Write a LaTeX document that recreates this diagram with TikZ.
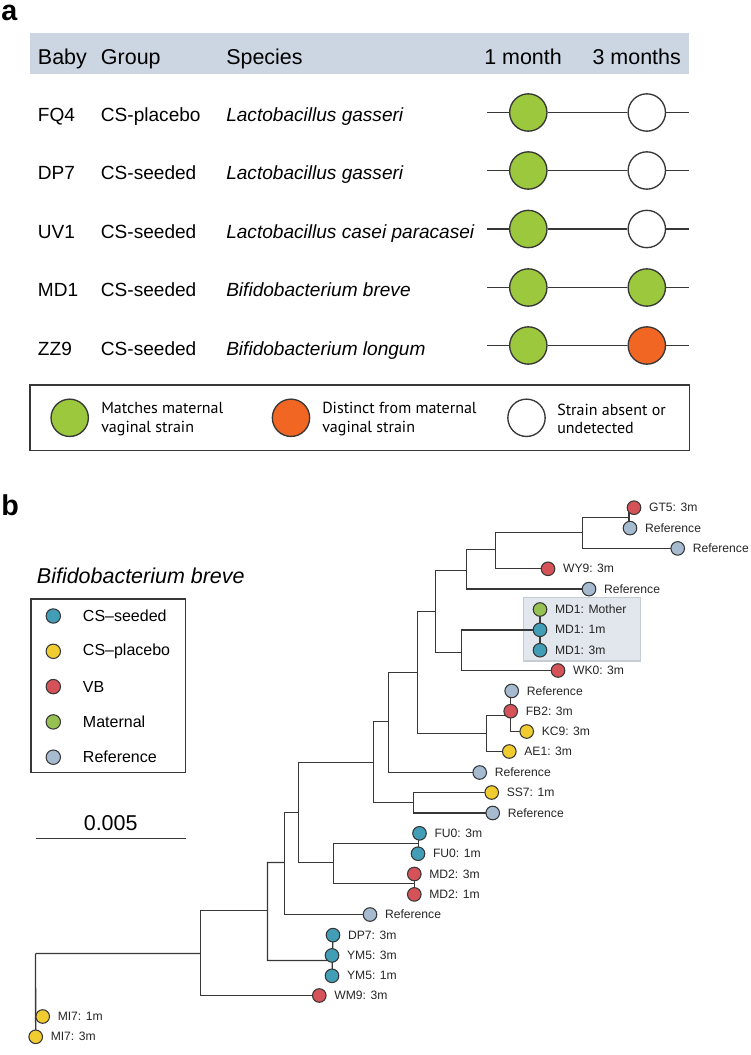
\documentclass[tikz,border=0pt]{standalone}
\usepackage{fontspec}
\setmainfont{Liberation Sans}
\newfontfamily\legendfont{PT Sans}
\usetikzlibrary{backgrounds}

\definecolor{bandblue}{RGB}{204,214,227}
\definecolor{matchgreen}{RGB}{155,200,60}
\definecolor{distorange}{RGB}{242,102,35}
\definecolor{seedteal}{RGB}{66,158,182}
\definecolor{placeboyellow}{RGB}{240,204,48}
\definecolor{vbred}{RGB}{212,82,88}
\definecolor{matgreen}{RGB}{150,193,82}
\definecolor{refblue}{RGB}{166,186,208}
\definecolor{boxgrey}{RGB}{226,231,238}
\definecolor{boxedge}{RGB}{198,204,212}
\definecolor{inkgrey}{RGB}{55,55,55}

\begin{document}
\begin{tikzpicture}[x=0.75pt,y=0.75pt,yscale=-1,xscale=1,
  hdr/.style={anchor=base west,inner sep=0pt,font=\fontsize{16.1}{19}\selectfont},
  cell/.style={anchor=base west,inner sep=0pt,font=\fontsize{14.3}{17}\selectfont},
  spec/.style={anchor=base west,inner sep=0pt,font=\fontsize{14.3}{17}\selectfont\itshape},
  panel/.style={anchor=base west,inner sep=0pt,text height=1.1ex,font=\fontsize{21.5}{25}\selectfont\bfseries},
  bigdot/.style={circle,draw=inkgrey,line width=1pt,minimum size=28pt,inner sep=0pt},
  rowline/.style={draw=inkgrey,line width=1pt},
  keytext/.style={anchor=west,inner sep=0pt,align=left,font=\legendfont\fontsize{12}{13.9}\selectfont},
  branch/.style={draw=inkgrey,line width=1pt},
  tiplab/.style={font=\fontsize{9.1}{11}\selectfont,inner sep=0pt,text=black!85,xshift=5.6pt},
  tipdot/.style={circle,draw=inkgrey,line width=0.8pt,minimum size=10.2pt,inner sep=0pt,
    label={[tiplab]east:{#1}}},
  seeded/.style={tipdot={#1},fill=seedteal},
  placebo/.style={tipdot={#1},fill=placeboyellow},
  vb/.style={tipdot={#1},fill=vbred},
  maternal/.style={tipdot={#1},fill=matgreen},
  refer/.style={tipdot={Reference},fill=refblue},
  legdot/.style={circle,draw=inkgrey,line width=0.8pt,minimum size=10.8pt,inner sep=0pt},
  legtext/.style={anchor=west,inner sep=0pt,font=\fontsize{12}{14}\selectfont}]
\useasboundingbox (0,0) rectangle (750,1055);

% ---------------- panel a ----------------
% Text Node
\node[panel] (pa) at (1,21) {a};
%Shape: Rectangle
\fill[bandblue] (30,33.3) rectangle (689.3,74);
% Text Node
\node[hdr] (hbaby) at (37.7,65) {Baby};
\node[hdr] (hgroup) at (100.7,65) {Group};
\node[hdr] (hspec) at (226,65) {Species};
\node[hdr] (hone) at (484,65) {1 month};
\node[hdr] (hthree) at (592.3,65) {3 months};

% Text Node
\node[cell] (b1) at (37.7,121.7) {FQ4};
\node[cell] (g1) at (100.7,121.7) {CS-placebo};
\node[spec] (s1) at (226,121.7) {Lactobacillus gasseri};
\node[cell] (b2) at (37.7,180) {DP7};
\node[cell] (g2) at (100.7,180) {CS-seeded};
\node[spec] (s2) at (226,180) {Lactobacillus gasseri};
\node[cell] (b3) at (37.7,238.4) {UV1};
\node[cell] (g3) at (100.7,238.4) {CS-seeded};
\node[spec] (s3) at (226,238.4) {Lactobacillus casei paracasei};
\node[cell] (b4) at (37.7,296.7) {MD1};
\node[cell] (g4) at (100.7,296.7) {CS-seeded};
\node[spec] (s4) at (226,296.7) {Bifidobacterium breve};
\node[cell] (b5) at (37.7,355.1) {ZZ9};
\node[cell] (g5) at (100.7,355.1) {CS-seeded};
\node[spec] (s5) at (226,355.1) {Bifidobacterium longum};

%Shape: Circle
\node[bigdot,fill=matchgreen] (fq4a) at (528.3,112.5) {};
\node[bigdot,fill=white] (fq4b) at (646.8,112.5) {};
\node[bigdot,fill=matchgreen] (dp7a) at (528.3,170.5) {};
\node[bigdot,fill=white] (dp7b) at (646.8,170.5) {};
\node[bigdot,fill=matchgreen] (uv1a) at (528.3,229) {};
\node[bigdot,fill=white] (uv1b) at (646.8,229) {};
\node[bigdot,fill=matchgreen] (md1a1) at (528.3,287.5) {};
\node[bigdot,fill=matchgreen] (md1b1) at (646.8,287.5) {};
\node[bigdot,fill=matchgreen] (zz9a) at (528.3,345.5) {};
\node[bigdot,fill=distorange] (zz9b) at (646.8,345.5) {};

\coordinate (l1) at (487.3,112.5); \coordinate (r1) at (689.3,112.5);
\coordinate (l2) at (487.3,170.5); \coordinate (r2) at (689.3,170.5);
\coordinate (l3) at (487.3,229); \coordinate (r3) at (689.3,229);
\coordinate (l4) at (487.3,287.5); \coordinate (r4) at (689.3,287.5);
\coordinate (l5) at (487.3,345.5); \coordinate (r5) at (689.3,345.5);
%Straight Lines
\draw[rowline] (l1) -- (fq4a) -- (fq4b) -- (r1);
\draw[rowline] (l2) -- (dp7a) -- (dp7b) -- (r2);
\draw[rowline] (l3) -- (uv1a) -- (uv1b) -- (r3);
\draw[rowline] (l4) -- (md1a1) -- (md1b1) -- (r4);
\draw[rowline] (l5) -- (zz9a) -- (zz9b) -- (r5);

%Shape: Rectangle
\draw[inkgrey,line width=1pt] (30,385) rectangle (689.3,450.6);
%Shape: Circle
\node[bigdot,fill=matchgreen] (kmatch) at (69.7,417.8) {};
\node[bigdot,fill=distorange] (kdist) at (291,417.8) {};
\node[bigdot,fill=white] (kabs) at (526.5,417.8) {};
% Text Node
\node[keytext] (tmatch) at (101,419) {Matches maternal\\vaginal strain};
\node[keytext] (tdist) at (322,419) {Distinct from maternal\\vaginal strain};
\node[keytext] (tabs) at (557,419) {Strain absent or\\undetected};

% ---------------- panel b ----------------
% Text Node
\node[panel] (pb) at (1,515) {b};
\node[anchor=base west,inner sep=0pt,font=\fontsize{16.1}{19}\selectfont\itshape] (ttl) at (36.7,583.3) {Bifidobacterium breve};

%Shape: Rectangle
\draw[inkgrey,line width=0.9pt] (31,599) rectangle (185.7,772.7);
%Shape: Circle
\node[legdot,fill=seedteal] (kseed) at (53.3,616) {};
\node[legdot,fill=placeboyellow] (kplac) at (53.3,651.3) {};
\node[legdot,fill=vbred] (kvb) at (53.3,686.6) {};
\node[legdot,fill=matgreen] (kmat) at (53.3,721.9) {};
\node[legdot,fill=refblue] (kref) at (53.3,757.2) {};
% Text Node
\node[legtext] (tseed) at (82.7,616) {CS–seeded};
\node[legtext] (tplac) at (82.7,651.3) {CS–placebo};
\node[legtext] (tvb) at (82.7,686.6) {VB};
\node[legtext] (tmat) at (82.7,721.9) {Maternal};
\node[legtext] (tref) at (82.7,757.2) {Reference};

% scale bar
\node[anchor=base,inner sep=0pt,font=\fontsize{16.1}{19}\selectfont] (scl) at (110.7,830) {0.005};
\draw[inkgrey,line width=1pt] (35.7,838.5) -- (185.7,838.5);

% tips
\node[vb={GT5: 3m}] (gt5) at (634,507.7) {};
\node[refer] (ref1) at (630,528.1) {};
\node[refer] (ref2) at (677.7,548.4) {};
\node[vb={WY9: 3m}] (wy9) at (548,568.8) {};
\node[refer] (ref3) at (589,589.1) {};
\node[maternal={MD1: Mother}] (md1m) at (540,609.5) {};
\node[seeded={MD1: 1m}] (md1a) at (540,629.8) {};
\node[seeded={MD1: 3m}] (md1b) at (540,650.2) {};
\node[vb={WK0: 3m}] (wk0) at (558,670.5) {};
\node[refer] (ref4) at (511.7,690.9) {};
\node[vb={FB2: 3m}] (fb2) at (510.7,711.2) {};
\node[placebo={KC9: 3m}] (kc9) at (526.7,731.5) {};
\node[placebo={AE1: 3m}] (ae1) at (509.3,751.5) {};
\node[refer] (ref5) at (479.7,772.5) {};
\node[placebo={SS7: 1m}] (ss7) at (491.7,792.5) {};
\node[refer] (ref6) at (492.7,813) {};
\node[seeded={FU0: 3m}] (fu0a) at (419.5,833.3) {};
\node[seeded={FU0: 1m}] (fu0b) at (418,853.7) {};
\node[vb={MD2: 3m}] (md2a) at (414.3,874) {};
\node[vb={MD2: 1m}] (md2b) at (414.3,894.4) {};
\node[refer] (ref7) at (370,914.5) {};
\node[seeded={DP7: 3m}] (dp7) at (333,935.1) {};
\node[seeded={YM5: 3m}] (ym5a) at (332,955.4) {};
\node[seeded={YM5: 1m}] (ym5b) at (332,975.8) {};
\node[vb={WM9: 3m}] (wm9) at (319.3,995.5) {};
\node[placebo={MI7: 1m}] (mi7a) at (42.7,1016.5) {};
\node[placebo={MI7: 3m}] (mi7b) at (35.7,1036.8) {};

% inner nodes
\coordinate (n1) at (35.5,953.5);
\coordinate (n2) at (200.5,953.5);
\coordinate (n3) at (267.5,910.5);
\coordinate (n4) at (284.5,862.5);
\coordinate (n5) at (298.5,812.5);
\coordinate (nfm) at (333.5,862.5);
\coordinate (nfu) at (418.5,843.5);
\coordinate (nmd2) at (414.5,883.5);
\coordinate (n6) at (373.5,762.5);
\coordinate (nss) at (413.5,802.5);
\coordinate (n7) at (388.5,721.5);
\coordinate (n8) at (417.5,672.5);
\coordinate (nae) at (486.5,733.5);
\coordinate (nfb) at (510.5,715.5);
\coordinate (n9) at (435.5,611.5);
\coordinate (nwk) at (461.5,652.5);
\coordinate (nmd1) at (540,630);
\coordinate (n10) at (466.5,570.5);
\coordinate (n11) at (495.5,549.5);
\coordinate (n12) at (582.5,532.5);
\coordinate (ngt) at (629,517.5);
\coordinate (nym) at (332,960.5);

\begin{pgfonlayer}{background}
%Shape: Rectangle
\draw[fill=boxgrey,draw=boxedge,line width=0.8pt] (523.3,597.7) rectangle (640.7,661);
%Straight Lines
\draw[branch] (n1) |- (mi7a.center) (n1) -- (mi7b.center) (n1) -- (n2);
\draw[branch] (n2) |- (n3) (n2) |- (wm9.center);
\draw[branch] (n3) |- (n4) (n3) |- (nym) (dp7.center) -- (ym5b.center);
\draw[branch] (n4) |- (n5) (n4) |- (ref7.center);
\draw[branch] (n5) |- (n6) (n5) |- (nfm);
\draw[branch] (nfm) |- (nfu) (nfm) |- (nmd2);
\draw[branch] (nfu) |- (fu0a.center) (nfu) |- (fu0b.center);
\draw[branch] (nmd2) |- (md2a.center) (nmd2) |- (md2b.center);
\draw[branch] (n6) |- (n7) (n6) |- (nss);
\draw[branch] (nss) |- (ss7.center) (nss) |- (ref6.center);
\draw[branch] (n7) |- (n8) (n7) |- (ref5.center);
\draw[branch] (n8) |- (n9) (n8) |- (nae);
\draw[branch] (nae) |- (nfb) (nae) |- (ae1.center);
\draw[branch] (nfb) |- (ref4.center) (nfb) |- (fb2.center) (nfb) |- (kc9.center);
\draw[branch] (n9) |- (n10) (n9) |- (nwk);
\draw[branch] (nwk) |- (nmd1) (nwk) |- (wk0.center);
\draw[branch] (nmd1) -- (md1m.center) (nmd1) -- (md1b.center);
\draw[branch] (n10) |- (n11) (n10) |- (ref3.center);
\draw[branch] (n11) |- (n12) (n11) |- (wy9.center);
\draw[branch] (n12) |- (ngt) (n12) |- (ref2.center);
\draw[branch] (ngt) |- (gt5.center) (ngt) |- (ref1.center);
\end{pgfonlayer}

\end{tikzpicture}
\end{document}
